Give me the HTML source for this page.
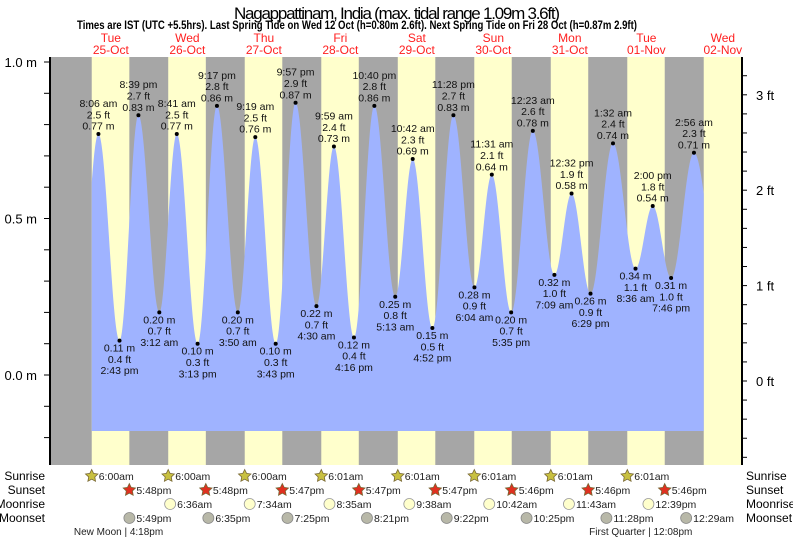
<!DOCTYPE html>
<html><head><meta charset="utf-8"><style>
html,body{margin:0;padding:0;background:#fff;}
svg{display:block;font-family:"Liberation Sans",sans-serif;}
</style></head><body>
<svg id="chart" width="793" height="539" viewBox="0 0 793 539" xmlns="http://www.w3.org/2000/svg">
<text x="397" y="19" font-size="17" text-anchor="middle" textLength="326" fill="#000">Nagappattinam, India (max. tidal range 1.09m 3.6ft)</text>
<text x="357" y="29" font-size="11.5" font-weight="bold" text-anchor="middle" textLength="560" lengthAdjust="spacingAndGlyphs" fill="#000">Times are IST (UTC +5.5hrs). Last Spring Tide on Wed 12 Oct (h=0.80m 2.6ft). Next Spring Tide on Fri 28 Oct (h=0.87m 2.9ft)</text>
<g id="bands"></g>
<g id="tide"></g>
<g id="axes"></g>
<g id="labels"></g>
<g id="days"></g>
<g id="astro"></g>
</svg>
<script>
// ---- data ----
const dayNames = ["Tue","Wed","Thu","Fri","Sat","Sun","Mon","Tue","Wed"];
const dayDates = ["25-Oct","26-Oct","27-Oct","28-Oct","29-Oct","30-Oct","31-Oct","01-Nov","02-Nov"];
const tideTimes = ["8:06 am","2:43 pm","8:39 pm","3:12 am","8:41 am","3:13 pm","9:17 pm","3:50 am","9:19 am","3:43 pm","9:57 pm","4:30 am","9:59 am","4:16 pm","10:40 pm","5:13 am","10:42 am","4:52 pm","11:28 pm","6:04 am","11:31 am","5:35 pm","12:23 am","7:09 am","12:32 pm","6:29 pm","1:32 am","8:36 am","2:00 pm","7:46 pm","2:56 am"];
const tideDay = [0,0,0,1,1,1,1,2,2,2,2,3,3,3,3,4,4,4,4,5,5,5,6,6,6,6,7,7,7,7,8];
const tideHeights = [0.77,0.11,0.83,0.20,0.77,0.10,0.86,0.20,0.76,0.10,0.87,0.22,0.73,0.12,0.86,0.25,0.69,0.15,0.83,0.28,0.64,0.20,0.78,0.32,0.58,0.26,0.74,0.34,0.54,0.31,0.71];
const tideFeet = ["2.5","0.4","2.7","0.7","2.5","0.3","2.8","0.7","2.5","0.3","2.9","0.7","2.4","0.4","2.8","0.8","2.3","0.5","2.7","0.9","2.1","0.7","2.6","1.0","1.9","0.9","2.4","1.1","1.8","1.0","2.3"];
const sunrise = ["6:00am","6:00am","6:00am","6:01am","6:01am","6:01am","6:01am","6:01am"];
const sunset = ["5:48pm","5:48pm","5:47pm","5:47pm","5:47pm","5:46pm","5:46pm","5:46pm"];
const moonriseDay = [1,2,3,4,5,6,7];
const moonrise = ["6:36am","7:34am","8:35am","9:38am","10:42am","11:43am","12:39pm"];
const moonsetDay = [0,1,2,3,4,5,6,8];
const moonset = ["5:49pm","6:35pm","7:25pm","8:21pm","9:22pm","10:25pm","11:28pm","12:29am"];
const phaseDay = [0,7];
const phaseText = ["New Moon | 4:18pm","First Quarter | 12:08pm"];
const phaseTime = ["4:18pm","12:08pm"];
const mTicks = [0.0,0.5,1.0];
const ftTicks = [0,1,2,3];

// ---- scales ----
const X0=72.6, PXH=76.5/24, PL=50, PR=742, PT=57, PB=465;
const xT = t => X0 + t*PXH;
const yM = m => 375 - m*313;
const yF = f => 381 - f*95.4;
function parseT(s){const m=s.match(/(\d+):(\d+)\s*(am|pm)/);let h=+m[1]%12;if(m[3]==="pm")h+=12;return h+ +m[2]/60;}
const NS="http://www.w3.org/2000/svg";
function mk(tag,attrs,parent){const e=document.createElementNS(NS,tag);for(const k in attrs)e.setAttribute(k,attrs[k]);parent.appendChild(e);return e;}

// bands
const bands=document.getElementById('bands');
let r=mk('rect',{x:PL,y:PT,width:PR-PL,height:PB-PT,fill:'#a6a6a6'},bands);


for(let d=0;d<9;d++){
  const s=d*24+(d<8?parseT(sunrise[d]):6.0);
  const e=d*24+(d<8?parseT(sunset[d]):17.77);
  const x1=xT(s), x2=Math.min(xT(e),PR);
  const b=mk('rect',{x:x1,y:PT,width:x2-x1,height:PB-PT,fill:'#ffffcc'},bands);
  
  
}

// tide curve
const ts=tideTimes.map((s,i)=>tideDay[i]*24+parseT(s));
const ext=[{t:1.8,h:0.15}].concat(ts.map((t,i)=>({t:t,h:tideHeights[i]}))).concat([{t:204,h:0.2}]);
const tStart=6, tEnd=198, bottom=yM(-0.179);
let d=`M${xT(tStart)},${bottom}`;
for(let t=tStart;t<=tEnd+1e-6;t+=0.1){
  let k=0;while(k<ext.length-2&&ext[k+1].t<t)k++;
  const a=ext[k],b=ext[k+1];const f=(t-a.t)/(b.t-a.t);
  const h=a.h+(b.h-a.h)*(1-Math.cos(Math.PI*f))/2;
  d+=` L${xT(t).toFixed(2)},${yM(h).toFixed(2)}`;
}
d+=` L${xT(tEnd)},${bottom} Z`;
const tide=document.getElementById('tide');
const p=mk('path',{d:d,fill:'#9fb3ff'},tide);



// labels
const lab=document.getElementById('labels');
ts.forEach((t,i)=>{
  const x=xT(t), y=yM(tideHeights[i]);
  const dot=mk('circle',{cx:x,cy:y,r:2,fill:'#000'},lab);
  
  
  const high = i%2===0;
  const lines = high ? [tideTimes[i],tideFeet[i]+' ft',tideHeights[i].toFixed(2)+' m'] : [tideHeights[i].toFixed(2)+' m',tideFeet[i]+' ft',tideTimes[i]];
  const base = high ? y-27 : y+11;
  lines.forEach((s,j)=>{
    const tx=mk('text',{x:x,y:base+j*11.3,'font-size':10.5,'text-anchor':'middle',fill:'#111'},lab);
    tx.textContent=s;
    
    
  });
});

// axes
const ax=document.getElementById('axes');
let l=mk('line',{x1:PL,y1:PT,x2:PL,y2:PB,stroke:'#000','stroke-width':2},ax);


l=mk('line',{x1:PR,y1:PT,x2:PR,y2:PB,stroke:'#000','stroke-width':2},ax);


for(let m=-0.2;m<=1.0001;m+=0.1){
  const tk=mk('line',{x1:44,x2:PL,y1:yM(m),y2:yM(m),stroke:'#000'},ax);
  
  
}
mTicks.forEach(m=>{
  const tx=mk('text',{x:37,y:yM(m)+5,'font-size':13,'text-anchor':'end'},ax);
  tx.textContent=m.toFixed(1)+' m';
  
  
});
for(let f=-0.8;f<=3.4001;f+=0.2){
  if(yF(f)<PT||yF(f)>PB)continue;
  const tk=mk('line',{x1:PR,x2:PR+5,y1:yF(f),y2:yF(f),stroke:'#000'},ax);
  
  
}
ftTicks.forEach(f=>{
  const tx=mk('text',{x:756,y:yF(f)+5,'font-size':13},ax);
  tx.textContent=f+' ft';
  
  
});

// day labels
const dl=document.getElementById('days');
dayNames.forEach((n,i)=>{
  const x=xT(i*24+12);
  const a=mk('text',{x:x,y:42,'font-size':12,'text-anchor':'middle',fill:'#ff2020'},dl);
  a.textContent=n;
  
  
  const b=mk('text',{x:x,y:54,'font-size':12,'text-anchor':'middle',fill:'#ff2020'},dl);
  b.textContent=dayDates[i];
  
  
});

// astro rows
const as=document.getElementById('astro');
const rows=[["Sunrise",480],["Sunset",494],["Moonrise",508],["Moonset",522]];
rows.forEach(([n,y])=>{
  const a=mk('text',{x:45,y:y,'font-size':12,'text-anchor':'end'},as);
  a.textContent=n;
  
  
  const b=mk('text',{x:746,y:y,'font-size':12},as);
  b.textContent=n;
  
  
});
function star(cx,cy,fill){
  let pts=[];for(let k=0;k<10;k++){const rr=k%2?3.2:6.5;const a=-Math.PI/2+k*Math.PI/5;pts.push((cx+rr*Math.cos(a)).toFixed(1)+','+(cy+rr*Math.sin(a)).toFixed(1));}
  const s=mk('polygon',{points:pts.join(' '),fill:fill,stroke:'#776633','stroke-width':0.8},as);
  
  
}
function item(x,y,txt,name){
  const t=mk('text',{x:x+7,y:y,'font-size':10.5,fill:'#222'},as);
  t.textContent=txt;
  
  
}
sunrise.forEach((s,i)=>{const x=xT(i*24+parseT(s));star(x,476,'#c8c040');item(x,480,s,'sunrise-time');});
sunset.forEach((s,i)=>{const x=xT(i*24+parseT(s));star(x,490,'#e03020');item(x,494,s,'sunset-time');});
moonrise.forEach((s,i)=>{const x=xT(moonriseDay[i]*24+parseT(s));
  const c=mk('circle',{cx:x,cy:504,r:5.5,fill:'#ffffcc',stroke:'#999','stroke-width':0.8},as);
  
  
  item(x,508,s,'moonrise-time');});
moonset.forEach((s,i)=>{const x=xT(moonsetDay[i]*24+parseT(s));
  const c=mk('circle',{cx:x,cy:518,r:5.5,fill:'#b8b8a8',stroke:'#888','stroke-width':0.8},as);
  
  
  item(x,522,s,'moonset-time');});
phaseText.forEach((s,i)=>{const x=xT(phaseDay[i]*24+parseT(phaseTime[i]))-6;
  const t=mk('text',{x:x,y:535,'font-size':10,'text-anchor':'middle',fill:'#222'},as);
  t.textContent=s;
  
  });
</script>
</body></html>
